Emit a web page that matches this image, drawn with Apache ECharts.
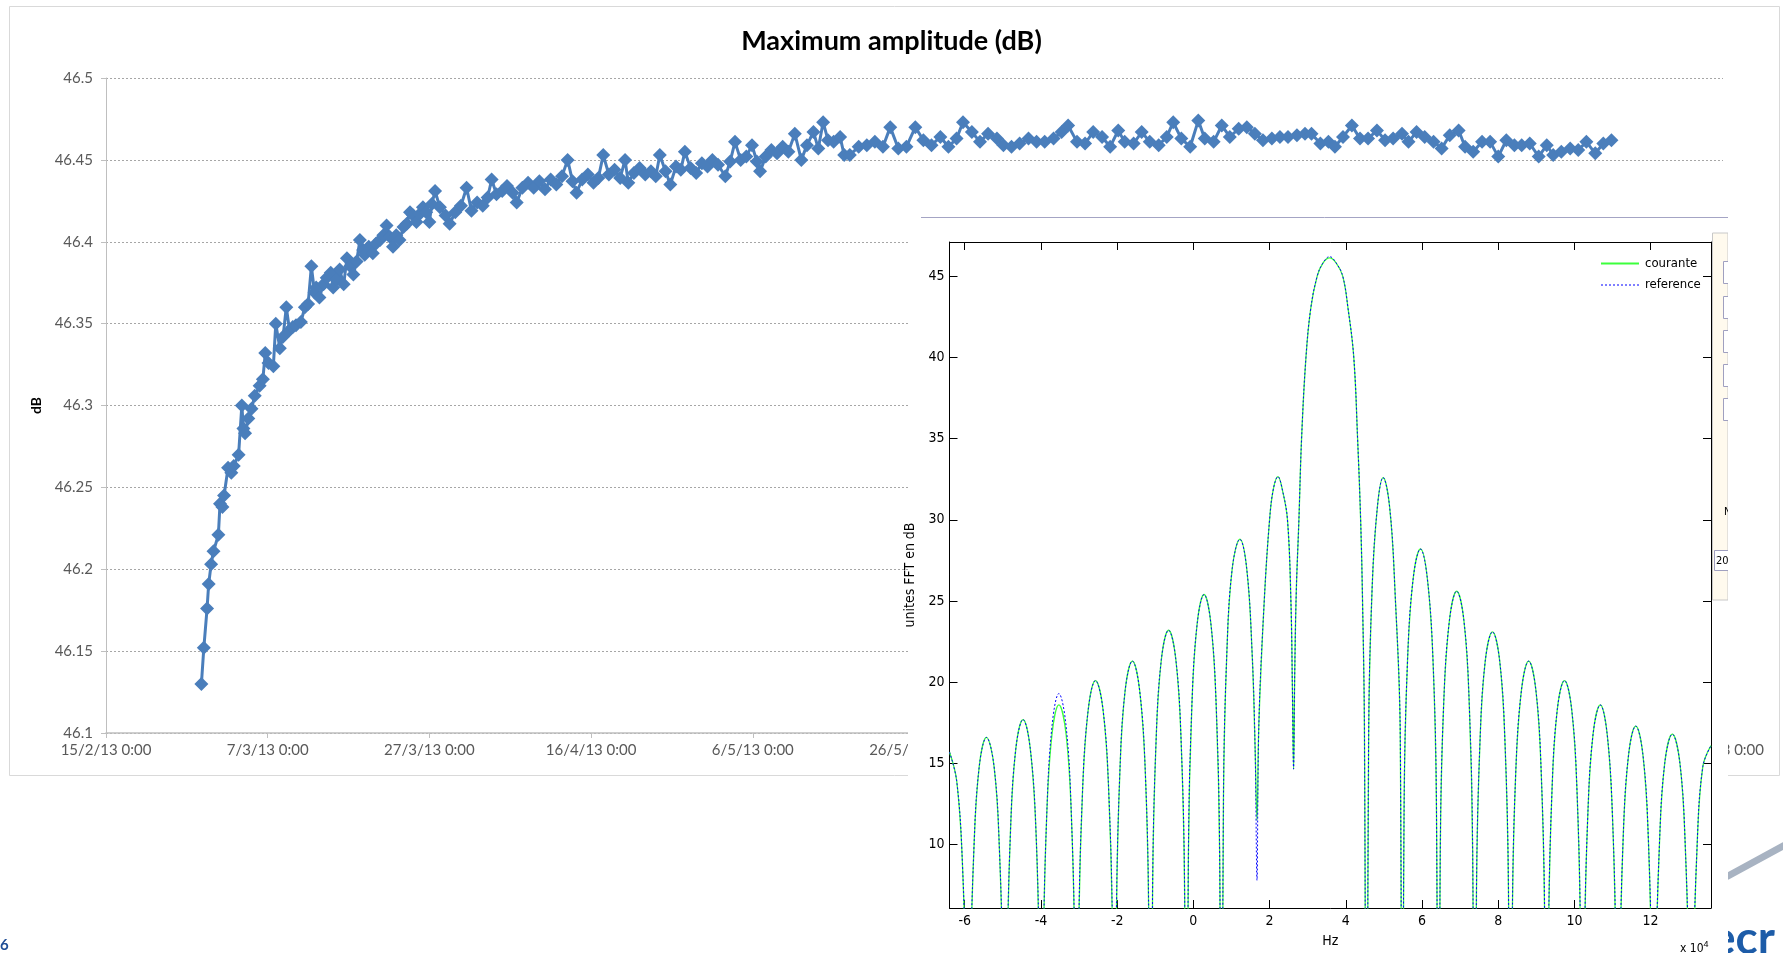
<!DOCTYPE html>
<html>
<head>
<meta charset="utf-8">
<title>Maximum amplitude (dB)</title>
<script src="https://cdn.jsdelivr.net/npm/echarts@6/dist/echarts.min.js"></script>
<style>
  html, body { margin: 0; padding: 0; background: #fff; overflow: hidden; }
  #main { position: absolute; left: 0; top: 0; width: 1783px; height: 953px; }
  #inset { position: absolute; left: 900px; top: 217px; width: 828px; height: 736px; }
</style>
</head>
<body>
<div id="main"></div>
<div id="inset"></div>
<script>
// ---- main chart : maximum amplitude versus date ----
// dates are days after 15/2/13 0:00
var dateLabels = ['15/2/13 0:00', '7/3/13 0:00', '27/3/13 0:00', '16/4/13 0:00', '6/5/13 0:00',
  '26/5/13 0:00', '15/6/13 0:00', '5/7/13 0:00', '25/7/13 0:00', '14/8/13 0:00', '3/9/13 0:00'];

var days = [
  11.8, 12.1, 12.5, 12.7, 13.0, 13.3, 13.9, 14.1, 14.4, 14.6,
  15.1, 15.5, 15.8, 16.4, 16.8, 17.0, 17.2, 17.6, 18.0, 18.4,
  19.0, 19.4, 19.7, 20.1, 20.7, 21.0, 21.5, 21.9, 22.3, 22.7,
  23.1, 23.5, 24.1, 24.6, 25.0, 25.4, 25.8, 26.0, 26.4, 26.9,
  27.3, 27.8, 28.1, 28.5, 28.9, 29.4, 29.8, 30.2, 30.6, 31.0,
  31.4, 31.8, 32.0, 32.5, 33.0, 33.4, 33.9, 34.3, 34.7, 35.1,
  35.5, 35.9, 36.3, 36.8, 37.2, 37.6, 38.0, 38.4, 38.8, 39.2,
  39.6, 40.0, 40.3, 40.7, 41.3, 42.0, 42.5, 43.2, 43.9, 44.6,
  45.2, 45.9, 46.6, 47.2, 47.7, 48.3, 49.0, 49.6, 50.3, 50.8,
  51.5, 52.2, 52.9, 53.6, 54.3, 55.0, 55.7, 56.4, 57.1, 57.7,
  58.2, 58.9, 59.6, 60.3, 60.9, 61.5, 62.2, 62.9, 63.6, 64.2,
  64.6, 65.3, 66.0, 66.7, 67.4, 68.0, 68.5, 69.2, 69.8, 70.5,
  71.1, 71.6, 72.3, 73.0, 73.7, 74.4, 75.0, 75.7, 76.6, 77.2,
  77.8, 78.5, 79.2, 79.9, 80.5, 80.9, 81.6, 82.3, 83.0, 83.7,
  84.4, 85.2, 86.0, 86.7, 87.5, 88.1, 88.7, 89.3, 90.0, 90.8,
  91.3, 92.0, 93.1, 94.1, 95.1, 96.1, 97.0, 98.0, 99.0, 100.1,
  101.1, 102.1, 103.2, 104.2, 105.2, 106.0, 107.1, 108.1, 109.1, 110.2,
  111.0, 112.0, 113.0, 114.1, 115.1, 116.1, 117.2, 118.2, 119.0, 120.1,
  121.1, 122.1, 123.2, 124.2, 125.2, 126.0, 127.1, 128.1, 129.1, 130.2,
  131.2, 132.0, 133.0, 134.1, 135.1, 135.9, 137.0, 138.0, 139.0, 140.1,
  141.1, 142.1, 143.1, 144.2, 145.2, 146.2, 147.3, 148.3, 149.1, 150.2,
  151.2, 152.0, 153.0, 154.1, 155.1, 156.1, 157.2, 158.2, 159.2, 160.3,
  161.1, 162.1, 163.1, 164.2, 165.2, 166.2, 167.3, 168.1, 169.1, 170.2,
  171.2, 172.2, 173.2, 174.2, 175.1, 176.1, 177.2, 178.2, 179.0, 180.0,
  181.1, 182.1, 183.1, 184.2, 185.2, 186.2
];

var amplitude = [
  46.130, 46.152, 46.176, 46.191, 46.203, 46.211, 46.221, 46.240, 46.238, 46.245,
  46.262, 46.259, 46.263, 46.270, 46.300, 46.286, 46.283, 46.292, 46.298, 46.306,
  46.312, 46.316, 46.332, 46.326, 46.324, 46.350, 46.335, 46.342, 46.360, 46.346,
  46.348, 46.349, 46.351, 46.360, 46.362, 46.385, 46.369, 46.372, 46.366, 46.374,
  46.378, 46.381, 46.372, 46.377, 46.383, 46.374, 46.390, 46.385, 46.380, 46.388,
  46.401, 46.395, 46.392, 46.397, 46.393, 46.399, 46.401, 46.404, 46.410, 46.403,
  46.397, 46.404, 46.401, 46.409, 46.411, 46.418, 46.416, 46.412, 46.417, 46.421,
  46.418, 46.412, 46.423, 46.431, 46.421, 46.416, 46.411, 46.418, 46.422, 46.433,
  46.419, 46.424, 46.422, 46.427, 46.438, 46.429, 46.431, 46.434, 46.430, 46.424,
  46.433, 46.436, 46.433, 46.437, 46.432, 46.438, 46.435, 46.440, 46.450, 46.437,
  46.430, 46.438, 46.441, 46.436, 46.439, 46.453, 46.441, 46.444, 46.439, 46.450,
  46.436, 46.442, 46.445, 46.441, 46.443, 46.440, 46.453, 46.443, 46.435, 46.446,
  46.444, 46.455, 46.445, 46.442, 46.448, 46.446, 46.450, 46.447, 46.440, 46.449,
  46.461, 46.450, 46.452, 46.459, 46.449, 46.443, 46.452, 46.456, 46.454, 46.458,
  46.455, 46.466, 46.450, 46.459, 46.467, 46.457, 46.473, 46.462, 46.461, 46.464,
  46.453, 46.453, 46.458, 46.459, 46.461, 46.458, 46.470, 46.457, 46.458, 46.470,
  46.462, 46.459, 46.464, 46.458, 46.463, 46.473, 46.467, 46.461, 46.466, 46.463,
  46.459, 46.458, 46.460, 46.463, 46.461, 46.461, 46.463, 46.467, 46.471, 46.461,
  46.460, 46.467, 46.464, 46.458, 46.468, 46.461, 46.460, 46.467, 46.461, 46.459,
  46.464, 46.473, 46.463, 46.458, 46.474, 46.463, 46.461, 46.471, 46.464, 46.469,
  46.470, 46.466, 46.462, 46.463, 46.464, 46.464, 46.465, 46.466, 46.466, 46.460,
  46.461, 46.458, 46.464, 46.471, 46.463, 46.463, 46.468, 46.462, 46.463, 46.466,
  46.461, 46.467, 46.464, 46.461, 46.457, 46.465, 46.468, 46.458, 46.455, 46.461,
  46.461, 46.452, 46.462, 46.459, 46.459, 46.460, 46.452, 46.459, 46.453, 46.455,
  46.457, 46.456, 46.461, 46.454, 46.460, 46.462
];

// ---- inset : FFT spectrum (frequency in units of 10^4 Hz) ----
var fftFreq = [
  -6.40, -6.21, -6.06, -5.96, -5.91,
  -5.86, -5.76, -5.62, -5.43, -5.23, -5.09, -4.99, -4.94,
  -4.89, -4.80, -4.66, -4.47, -4.28, -4.13, -4.04, -3.99,
  -3.94, -3.85, -3.71, -3.53, -3.34, -3.20, -3.11, -3.06,
  -3.01, -2.91, -2.76, -2.57, -2.37, -2.22, -2.12, -2.07,
  -2.02, -1.93, -1.79, -1.60, -1.41, -1.26, -1.17, -1.12,
  -1.07, -0.98, -0.84, -0.65, -0.46, -0.32, -0.23, -0.18,
  -0.13, -0.04, 0.10, 0.28, 0.46, 0.60, 0.69, 0.74,
  0.79, 0.88, 1.02, 1.22, 1.40, 1.54, 1.62, 1.67,
  1.72, 1.86, 2.00, 2.10, 2.22, 2.34, 2.47, 2.56, 2.60, 2.63,
  2.66, 2.70, 2.77, 2.84, 2.955, 3.08, 3.25, 3.40, 3.575, 3.75, 3.92, 4.06, 4.21, 4.31, 4.39, 4.44, 4.49, 4.55,
  4.60, 4.69, 4.83, 4.98, 5.15, 5.29, 5.43, 5.48,
  5.53, 5.62, 5.77, 5.96, 6.14, 6.29, 6.38, 6.43,
  6.48, 6.57, 6.72, 6.91, 7.10, 7.24, 7.33, 7.38,
  7.43, 7.52, 7.66, 7.85, 8.04, 8.18, 8.27, 8.32,
  8.37, 8.46, 8.61, 8.80, 8.99, 9.13, 9.22, 9.27,
  9.32, 9.41, 9.55, 9.74, 9.93, 10.07, 10.16, 10.21,
  10.26, 10.35, 10.49, 10.68, 10.86, 11.00, 11.09, 11.14,
  11.19, 11.28, 11.42, 11.61, 11.80, 11.94, 12.03, 12.08,
  12.13, 12.23, 12.37, 12.57, 12.77, 12.91, 13.01, 13.06,
  13.11, 13.22, 13.37, 13.585
];

var courante = [
  15.7, 13.9, 8.8, -0.3, -20,
  0.6, 9.7, 14.8, 16.6, 14.8, 9.7, 0.6, -20,
  1.7, 10.8, 15.9, 17.7, 15.9, 10.8, 1.7, -20,
  2.6, 11.7, 16.8, 18.6, 16.8, 11.7, 2.6, -20,
  4.1, 13.2, 18.3, 20.1, 18.3, 13.2, 4.1, -20,
  5.3, 14.4, 19.5, 21.3, 19.5, 14.4, 5.3, -20,
  7.2, 16.3, 21.4, 23.2, 21.4, 16.3, 7.2, -20,
  9.4, 18.5, 23.6, 25.4, 23.6, 18.5, 9.4, -20,
  12.8, 21.9, 27.0, 28.8, 27.0, 21.9, 16.0, 11.5,
  17.5, 25.0, 30.0, 31.9, 32.65, 31.8, 30.0, 25.0, 19.5, 14.65,
  20.5, 25.5, 30.0, 35.0, 40.0, 43.0, 45.0, 45.8, 46.12, 45.8, 45.0, 43.0, 40.0, 35.0, 30.0, 25.0, 17.0, -20,
  16.6, 25.7, 30.8, 32.6, 30.8, 25.7, 16.6, -20,
  12.2, 21.3, 26.4, 28.2, 26.4, 21.3, 12.2, -20,
  9.6, 18.7, 23.8, 25.6, 23.8, 18.7, 9.6, -20,
  7.1, 16.2, 21.3, 23.1, 21.3, 16.2, 7.1, -20,
  5.3, 14.4, 19.5, 21.3, 19.5, 14.4, 5.3, -20,
  4.1, 13.2, 18.3, 20.1, 18.3, 13.2, 4.1, -20,
  2.6, 11.7, 16.8, 18.6, 16.8, 11.7, 2.6, -20,
  1.3, 10.4, 15.5, 17.3, 15.5, 10.4, 1.3, -20,
  0.8, 9.9, 15.0, 16.8, 15.0, 9.9, 0.8, -20,
  0.3, 9.9, 14.8, 16.1
];

// the reference curve is the same as courante except at these frequencies
var refDiffFreq = [-3.71, -3.53, -3.34, 1.67, 3.575];
var refDiffValue = [17.3, 19.3, 17.3, 7.8, 46.2];

var fftTicksX = [-6, -4, -2, 0, 2, 4, 6, 8, 10, 12];
var fftTicksY = [10, 15, 20, 25, 30, 35, 40, 45];

var mainFont = 'Lato';
var matFont = '"Liberation Sans Narrow", "DejaVu Sans Condensed", "Liberation Sans", sans-serif';
var green = '#3cff3c';
var blue = '#0000ff';

var mainChart = echarts.init(document.getElementById('main'));
var option = {
  backgroundColor: '#ffffff',
  animation: false,
  title: {
    text: 'Maximum amplitude (dB)',
    left: 'center',
    top: 23,
    textStyle: { fontFamily: mainFont, fontSize: 27, fontWeight: 'bold', color: '#000' }
  },
  grid: { left: 106, top: 78, right: 60, bottom: 220, outerBoundsMode: 'none' },
  xAxis: {
    type: 'value',
    min: 0,
    max: 200,
    interval: 20,
    axisLine: { lineStyle: { color: '#bfbfbf', width: 1.5 } },
    axisTick: { length: 5, lineStyle: { color: '#bfbfbf' } },
    axisLabel: {
      margin: 10,
      fontFamily: mainFont,
      fontSize: 15,
      color: '#595959',
      formatter: function(v) { return dateLabels[Math.round(v / 20)]; }
    },
    splitLine: { show: false }
  },
  yAxis: {
    type: 'value',
    min: 46.1,
    max: 46.5,
    interval: 0.05,
    name: 'dB',
    nameLocation: 'middle',
    nameGap: 63,
    nameTextStyle: { fontFamily: mainFont, fontSize: 14, fontWeight: 'bold', color: '#000' },
    axisLine: { show: true, lineStyle: { color: '#bfbfbf', width: 1 } },
    axisTick: { show: true, length: 5, lineStyle: { color: '#bfbfbf' } },
    axisLabel: { margin: 13, fontFamily: mainFont, fontSize: 15, color: '#595959' },
    splitLine: { lineStyle: { color: '#a6a6a6', type: [2, 2], width: 1 } }
  },
  series: [{
    type: 'line',
    name: 'Maximum amplitude',
    data: days.map(function(d, i) { return [d, amplitude[i]]; }),
    symbol: 'diamond',
    symbolSize: 14,
    itemStyle: { color: '#4a7ebb' },
    lineStyle: { color: '#4a7ebb', width: 3 }
  }],
  graphic: [
    { type: 'rect', shape: { x: 9.5, y: 6.5, width: 1770, height: 769 },
      style: { fill: 'none', stroke: '#d9d9d9', lineWidth: 1 }, silent: true },
    { type: 'text', left: 0, top: 938,
      style: { text: '6', fill: '#1f4e96', font: 'bold 15px Lato' } },
    // corner of the slide logo, mostly hidden under the inset
    { type: 'line', shape: { x1: 1728, y1: 876, x2: 1783, y2: 846 },
      style: { stroke: '#a8b3c2', lineWidth: 7, lineCap: 'round' }, silent: true },
    { type: 'text', x: 1711, y: 962,
      style: { text: 'ecr', fill: '#1d5ca8', font: 'bold 46px Lato', verticalAlign: 'bottom' } }
  ]
};
option && mainChart.setOption(option);

// ---- inset chart ----
var insetChart = echarts.init(document.getElementById('inset'));
var reference = fftFreq.map(function(f, i) {
  var k = refDiffFreq.indexOf(f);
  return [f, k >= 0 ? refDiffValue[k] : courante[i]];
});

var boxAxis = {
  axisLine: { show: true, onZero: false, lineStyle: { color: '#000', width: 1 } },
  splitLine: { show: false }
};

var insetOption = {
  backgroundColor: 'transparent',
  animation: false,
  grid: { left: 49.5, top: 25, width: 761.5, height: 666, outerBoundsMode: 'none' },
  xAxis: [
    Object.assign({}, boxAxis, {
      type: 'value', min: -6.4, max: 13.585, position: 'bottom',
      name: 'Hz', nameLocation: 'middle', nameGap: 26,
      nameTextStyle: { fontFamily: matFont, fontSize: 14, color: '#000' },
      axisTick: { inside: true, length: 8, customValues: fftTicksX, lineStyle: { color: '#000' } },
      axisLabel: { customValues: fftTicksX, margin: 6, fontFamily: matFont, fontSize: 14, color: '#000' }
    }),
    Object.assign({}, boxAxis, {
      type: 'value', min: -6.4, max: 13.585, position: 'top',
      axisTick: { inside: true, length: 8, customValues: fftTicksX, lineStyle: { color: '#000' } },
      axisLabel: { show: false }
    })
  ],
  yAxis: [
    Object.assign({}, boxAxis, {
      type: 'value', min: 6.1, max: 47.1, position: 'left',
      name: 'unites FFT en dB', nameLocation: 'middle', nameGap: 28,
      nameTextStyle: { fontFamily: matFont, fontSize: 14, color: '#000' },
      axisTick: { inside: true, length: 8, customValues: fftTicksY, lineStyle: { color: '#000' } },
      axisLabel: { customValues: fftTicksY, margin: 5, fontFamily: matFont, fontSize: 14, color: '#000' }
    }),
    Object.assign({}, boxAxis, {
      type: 'value', min: 6.1, max: 47.1, position: 'right',
      axisTick: { inside: true, length: 8, customValues: fftTicksY, lineStyle: { color: '#000' } },
      axisLabel: { show: false }
    })
  ],
  series: [
    {
      name: 'courante',
      type: 'line',
      data: fftFreq.map(function(f, i) { return [f, courante[i]]; }),
      symbol: 'none',
      smooth: 0.4,
      clip: true,
      lineStyle: { color: green, width: 1.3 }
    },
    {
      name: 'reference',
      type: 'line',
      data: reference,
      symbol: 'none',
      smooth: 0.4,
      clip: true,
      lineStyle: { color: blue, width: 1, type: [2, 2] }
    }
  ],
  graphic: [
    // white background of the pasted figure and its top rule
    { type: 'rect', z: -100, shape: { x: 8, y: 0, width: 820, height: 736 },
      style: { fill: '#fff' }, silent: true },
    { type: 'line', shape: { x1: 21, y1: 0.5, x2: 828, y2: 0.5 },
      style: { stroke: '#a4a4c4', lineWidth: 1 }, silent: true },
    // legend drawn by hand, like the matlab one
    { type: 'line', shape: { x1: 701, y1: 46.5, x2: 739, y2: 46.5 },
      style: { stroke: green, lineWidth: 2 }, silent: true },
    { type: 'text', x: 745, y: 46.5,
      style: { text: 'courante', font: '13px ' + matFont, fill: '#000', verticalAlign: 'middle' } },
    { type: 'line', shape: { x1: 701, y1: 68, x2: 739, y2: 68 },
      style: { stroke: blue, lineWidth: 1, lineDash: [2, 2] }, silent: true },
    { type: 'text', x: 745, y: 68,
      style: { text: 'reference', font: '13px ' + matFont, fill: '#000', verticalAlign: 'middle' } },
    // side panel of the matlab window
    { type: 'rect', z: -50, shape: { x: 812.5, y: 16, width: 15.5, height: 367 },
      style: { fill: '#fffaee', stroke: '#c8c8c8', lineWidth: 1 }, silent: true },
    { type: 'rect', shape: { x: 823.5, y: 44.5, width: 10, height: 22 }, style: { fill: '#fff', stroke: '#a0a0c0' }, silent: true },
    { type: 'rect', shape: { x: 823.5, y: 79.5, width: 10, height: 22 }, style: { fill: '#fff', stroke: '#a0a0c0' }, silent: true },
    { type: 'rect', shape: { x: 823.5, y: 113.5, width: 10, height: 22 }, style: { fill: '#fff', stroke: '#a0a0c0' }, silent: true },
    { type: 'rect', shape: { x: 823.5, y: 147.5, width: 10, height: 22 }, style: { fill: '#fff', stroke: '#a0a0c0' }, silent: true },
    { type: 'rect', shape: { x: 823.5, y: 181.5, width: 10, height: 22 }, style: { fill: '#fff', stroke: '#a0a0c0' }, silent: true },
    { type: 'text', x: 824, y: 295, style: { text: 'N', font: '11px ' + matFont, fill: '#000', verticalAlign: 'middle' } },
    { type: 'rect', shape: { x: 814.5, y: 333.5, width: 20, height: 20 }, style: { fill: '#fff', stroke: '#a0a0c0' }, silent: true },
    { type: 'text', x: 816, y: 344, style: { text: '20', font: '11px ' + matFont, fill: '#000', verticalAlign: 'middle' } },
    // exponent of the frequency axis
    { type: 'text', x: 780, y: 723,
      style: { text: 'x 10{s|4}', font: '12px ' + matFont, fill: '#000',
        rich: { s: { fontSize: 9, verticalAlign: 'top', padding: [0, 0, 8, 0] } } } }
  ]
};
insetChart.setOption(insetOption);
</script>
</body>
</html>
